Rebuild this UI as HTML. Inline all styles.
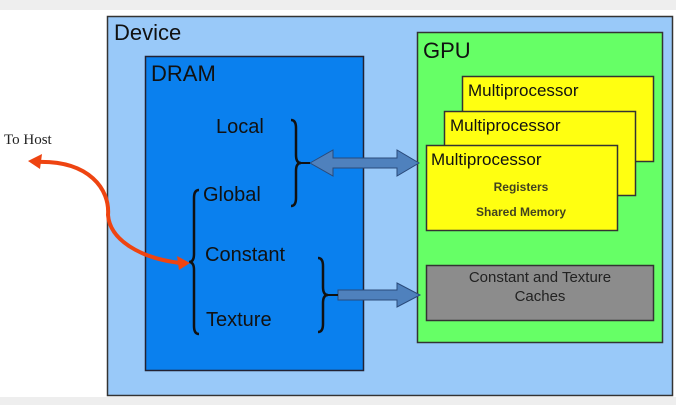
<!DOCTYPE html>
<html><head><style>
body{margin:0;width:676px;height:405px;overflow:hidden;background:#fff;font-family:"Liberation Sans",sans-serif}
</style></head><body>
<svg width="676" height="405" xmlns="http://www.w3.org/2000/svg" font-family="Liberation Sans, sans-serif">
<rect x="0" y="0" width="676" height="10" fill="#eeeeee"/>
<rect x="0" y="397" width="676" height="8" fill="#eeeeee"/>
<rect x="107.5" y="16.5" width="565" height="379" fill="#99c9f9" stroke="#333" stroke-width="1.5"/>
<text x="114" y="40" font-size="22" fill="#111">Device</text>
<rect x="145.5" y="56.5" width="218" height="314" fill="#0a80ee" stroke="#223" stroke-width="1.5"/>
<text x="151" y="81" font-size="22" fill="#111">DRAM</text>
<g font-size="20" fill="#111">
<text x="216" y="133">Local</text>
<text x="203" y="201">Global</text>
<text x="205" y="261">Constant</text>
<text x="206" y="326">Texture</text>
</g>
<g fill="none" stroke="#111" stroke-width="2.5">
<path d="M291 120 q5 0 5 8 v27 q0 8 5 8 q-5 0 -5 8 v27 q0 8 -5 8"/>
<path d="M199 190 q-5 0 -5 8 v56 q0 8 -5 8 q5 0 5 8 v56 q0 8 5 8"/>
<path d="M318 258 q5 0 5 8 v21 q0 8 5 8 q-5 0 -5 8 v21 q0 8 -5 8"/>
</g>
<rect x="417.5" y="32.5" width="245" height="310" fill="#66ff66" stroke="#333" stroke-width="1.5"/>
<text x="423" y="58" font-size="22" fill="#111">GPU</text>
<rect x="462.5" y="76.5" width="191" height="85" fill="#ffff11" stroke="#333" stroke-width="1.5"/>
<text x="468" y="96" font-size="17" fill="#111">Multiprocessor</text>
<rect x="444.5" y="111.5" width="191" height="84" fill="#ffff11" stroke="#333" stroke-width="1.5"/>
<text x="450" y="131" font-size="17" fill="#111">Multiprocessor</text>
<rect x="426.5" y="145.5" width="191" height="85" fill="#ffff11" stroke="#333" stroke-width="1.5"/>
<text x="431" y="165" font-size="17" fill="#111">Multiprocessor</text>
<text x="521" y="191" font-size="12" fill="#222" text-anchor="middle" font-weight="bold" opacity="0.85">Registers</text>
<text x="521" y="216" font-size="12" fill="#222" text-anchor="middle" font-weight="bold" opacity="0.85">Shared Memory</text>
<rect x="426.5" y="265.5" width="227" height="55" fill="#8c8c8c" stroke="#333" stroke-width="1.5"/>
<text x="540" y="282" font-size="15" fill="#222" text-anchor="middle">Constant and Texture</text>
<text x="540" y="301" font-size="15" fill="#222" text-anchor="middle">Caches</text>
<path d="M310 163 L333 150 V158 H397 V150 L419 163 L397 176 V168 H333 V176 Z" fill="#4f81bd" stroke="#2a4a7a" stroke-width="1"/>
<path d="M338 290 H397 V283 L420 295 L397 307 V300 H338 Z" fill="#4f81bd" stroke="#2a4a7a" stroke-width="1"/>
<path d="M328 295 H338" stroke="#111" stroke-width="2"/>
<path d="M301 163 H310" stroke="#111" stroke-width="2"/>
<path d="M36 162 C90 160 110 190 108 215 C110 240 140 258 180 263" fill="none" stroke="#ee4411" stroke-width="4"/>
<path d="M28 161 L42 154 L40 169 Z" fill="#ee4411"/>
<path d="M190 263 L177 256 L179 270 Z" fill="#ee4411"/>
<text x="4" y="144" font-size="15" fill="#222" font-family="Liberation Serif, serif">To Host</text>
</svg>
</body></html>
